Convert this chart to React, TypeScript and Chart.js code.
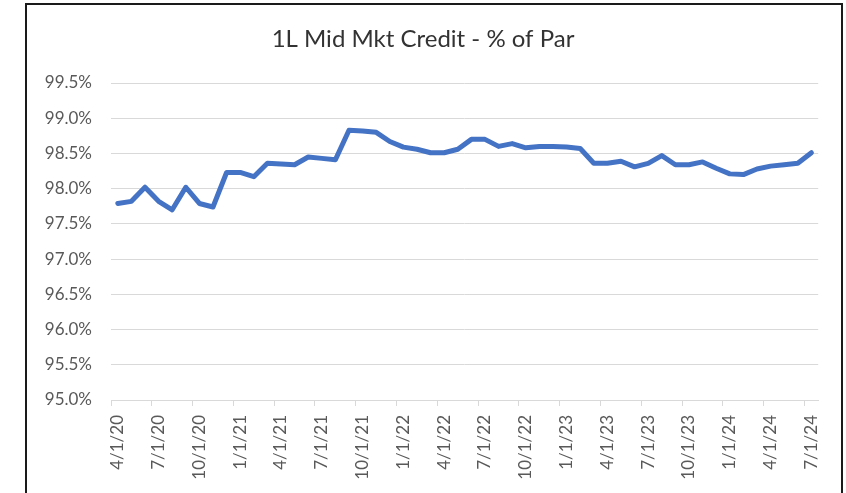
import React, { useEffect, useRef } from "react";
import { Chart, registerables } from "chart.js";

Chart.register(...registerables);

const TITLE = "1L Mid Mkt Credit - % of Par";

const categories: string[] = [
  "4/1/20", "5/1/20", "6/1/20", "7/1/20", "8/1/20", "9/1/20", "10/1/20", "11/1/20", "12/1/20",
  "1/1/21", "2/1/21", "3/1/21", "4/1/21", "5/1/21", "6/1/21", "7/1/21", "8/1/21", "9/1/21",
  "10/1/21", "11/1/21", "12/1/21", "1/1/22", "2/1/22", "3/1/22", "4/1/22", "5/1/22", "6/1/22",
  "7/1/22", "8/1/22", "9/1/22", "10/1/22", "11/1/22", "12/1/22", "1/1/23", "2/1/23", "3/1/23",
  "4/1/23", "5/1/23", "6/1/23", "7/1/23", "8/1/23", "9/1/23", "10/1/23", "11/1/23", "12/1/23",
  "1/1/24", "2/1/24", "3/1/24", "4/1/24", "5/1/24", "6/1/24", "7/1/24",
];

const pctOfPar: number[] = [
  97.79, 97.82, 98.02, 97.82, 97.7, 98.02, 97.79, 97.74, 98.23,
  98.23, 98.17, 98.36, 98.35, 98.34, 98.45, 98.43, 98.41, 98.83,
  98.82, 98.8, 98.67, 98.59, 98.56, 98.51, 98.51, 98.56, 98.7,
  98.7, 98.6, 98.64, 98.58, 98.6, 98.6, 98.59, 98.57, 98.36,
  98.36, 98.39, 98.31, 98.36, 98.47, 98.34, 98.34, 98.38, 98.29,
  98.21, 98.2, 98.28, 98.32, 98.34, 98.36, 98.51,
];

const Y_MIN = 95;
const Y_MAX = 99.5;
const Y_STEP = 0.5;
const LABEL_EVERY = 3;

const FONT = "Lato, 'Liberation Sans', sans-serif";

export default function App() {
  const ref = useRef<HTMLCanvasElement | null>(null);

  useEffect(() => {
    if (!ref.current) return;
    const chart = new Chart(ref.current, {
      type: "line",
      data: {
        labels: categories,
        datasets: [
          {
            data: pctOfPar,
            borderColor: "#4472C4",
            borderWidth: 5,
            pointRadius: 0,
            pointHoverRadius: 0,
            tension: 0,
            fill: false,
            borderJoinStyle: "round",
            borderCapStyle: "round",
          },
        ],
      },
      options: {
        responsive: false,
        animation: false,
        layout: { padding: { left: 0, right: 22, top: 0, bottom: 0 } },
        plugins: {
          legend: { display: false },
          tooltip: { enabled: false },
          title: {
            display: true,
            text: TITLE,
            color: "#333333",
            font: { family: FONT, size: 24, weight: "normal" },
            padding: { top: 19.6, bottom: 29.6 },
          },
        },
        scales: {
          x: {
            type: "category",
            offset: true,
            afterFit: (s: any) => {
              s.height = 93;
            },
            border: { display: true, color: "#d9d9d9", width: 1 },
            grid: {
              offset: true,
              drawOnChartArea: false,
              drawTicks: true,
              tickLength: 6,
              color: (ctx: any) =>
                typeof ctx.index === "number" && ctx.index % LABEL_EVERY === 0 ? "#d9d9d9" : "rgba(0,0,0,0)",
            },
            ticks: {
              autoSkip: false,
              minRotation: 90,
              maxRotation: 90,
              padding: 9,
              color: "#595959",
              font: { family: FONT, size: 17 },
              callback: function (this: any, val: any, idx: number) {
                return idx % LABEL_EVERY === 0 ? this.getLabelForValue(val) : "";
              },
            },
          },
          y: {
            min: Y_MIN,
            max: Y_MAX,
            afterFit: (s: any) => {
              s.width = 84;
            },
            border: { display: false },
            grid: { color: "#d9d9d9", lineWidth: 1, drawTicks: false },
            ticks: {
              stepSize: Y_STEP,
              padding: 19,
              color: "#595959",
              font: { family: FONT, size: 17 },
              callback: (v: any) => Number(v).toFixed(1) + "%",
            },
          },
        },
      },
    } as any);
    return () => chart.destroy();
  }, []);

  return (
    <>
      <div
        style={{
          position: "fixed",
          left: 25,
          top: 3,
          width: 814,
          height: 500,
          border: "2px solid #1a1a1a",
          background: "#ffffff",
        }}
      />
      <canvas
        ref={ref}
        width={814}
        height={488}
        style={{ position: "fixed", left: 27, top: 5, width: 814, height: 488 }}
      />
    </>
  );
}
